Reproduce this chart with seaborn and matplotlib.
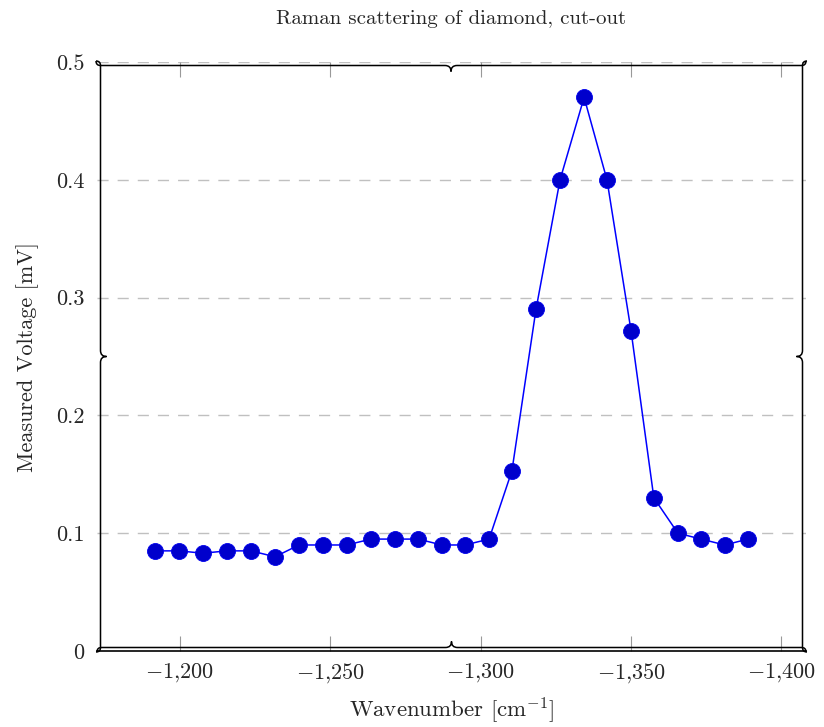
import numpy as np
import pandas as pd
import matplotlib
matplotlib.use("Agg")
import matplotlib.pyplot as plt
from matplotlib.path import Path
from matplotlib.patches import PathPatch
from matplotlib.transforms import IdentityTransform
import seaborn as sns

# Raman spectrum of diamond around the first-order line (cut-out)
wavenumber = [-1191.7, -1199.7, -1207.6, -1215.6, -1223.6, -1231.6, -1239.6,
              -1247.6, -1255.5, -1263.5, -1271.5, -1279.2, -1287.1, -1294.8,
              -1302.8, -1310.4, -1318.4, -1326.4, -1334.4, -1342.0, -1350.0,
              -1357.6, -1365.6, -1373.3, -1381.2, -1388.9]
voltage = [0.085, 0.085, 0.083, 0.085, 0.085, 0.080, 0.090, 0.090, 0.090,
           0.095, 0.095, 0.095, 0.090, 0.090, 0.095, 0.153, 0.290, 0.400,
           0.470, 0.400, 0.272, 0.130, 0.100, 0.095, 0.090, 0.095]

x_ticks = [-1200, -1250, -1300, -1350, -1400]
x_tick_labels = [r"$-1{,}200$", r"$-1{,}250$", r"$-1{,}300$", r"$-1{,}350$", r"$-1{,}400$"]
y_ticks = [0, 0.1, 0.2, 0.3, 0.4, 0.5]
y_tick_labels = ["0", "0.1", "0.2", "0.3", "0.4", "0.5"]

title = "Raman scattering of diamond, cut-out"
x_label = r"Wavenumber [cm$^{-1}$]"
y_label = "Measured Voltage [mV]"

sns.set_theme(style="white")
plt.rcParams["font.family"] = ["cmr10", "DejaVu Serif"]
plt.rcParams["mathtext.fontset"] = "cm"
plt.rcParams["axes.formatter.use_mathtext"] = True

W, H = 824, 727
fig = plt.figure(figsize=(W / 100, H / 100), dpi=100)
fig.patch.set_facecolor("white")

# axes box in pixel coordinates (image origin top-left)
left_px, right_px, top_px, bottom_px = 97, 806, 62, 651
ax = fig.add_axes([left_px / W, 1 - bottom_px / H,
                   (right_px - left_px) / W, (bottom_px - top_px) / H])

df = pd.DataFrame({"wavenumber": wavenumber, "voltage": voltage})

# dashed horizontal grid
for yv in y_ticks[1:]:
    ax.axhline(yv, color="#c0c0c0", lw=1.0, ls=(0, (8, 6.5)), zorder=0)

sns.lineplot(data=df, x="wavenumber", y="voltage", ax=ax, color="#0000ff",
             lw=1.1, marker="o", markersize=11.5, markerfacecolor="#0000cc",
             markeredgecolor="#0000ee", markeredgewidth=0.6, zorder=3,
             sort=False)

ax.set_xlim(-1172.4, -1408.2)
ax.set_ylim(0, 0.5)
ax.set_xticks(x_ticks)
ax.set_xticklabels(x_tick_labels)
ax.set_yticks(y_ticks)
ax.set_yticklabels(y_tick_labels)

ax.tick_params(axis="x", which="both", direction="in", length=10.5, width=0.8,
               color="#999999", top=True, bottom=True, labelsize=16, pad=7)
ax.tick_params(axis="y", length=0, labelsize=16, pad=9)

for side in ["top", "left", "right"]:
    ax.spines[side].set_visible(False)
ax.spines["bottom"].set_color("black")
ax.spines["bottom"].set_linewidth(1.2)

ax.set_xlabel(x_label, fontsize=16.5, labelpad=8)
ax.set_ylabel(y_label, fontsize=16, labelpad=12)
ax.set_title(title, fontsize=15, pad=27)


def brace(p0, p1, body, tip, inward):
    """Curly brace from p0 to p1 (pixel coords, top-left origin) bulging along inward."""
    p0 = np.array(p0, float)
    p1 = np.array(p1, float)
    d = p1 - p0
    L = np.hypot(*d)
    u = d / L
    n = np.array(inward, float)
    h = body
    w = 6.0
    local = [
        (0, 0), (0, h), (h, h),
        (L / 2 - w, h),
        (L / 2, h), (L / 2, tip),
        (L / 2, h), (L / 2 + w, h),
        (L - h, h),
        (L, h), (L, 0),
    ]
    codes = [Path.MOVETO, Path.CURVE3, Path.CURVE3, Path.LINETO,
             Path.CURVE3, Path.CURVE3, Path.CURVE3, Path.CURVE3,
             Path.LINETO, Path.CURVE3, Path.CURVE3]
    pts = []
    for a, b in local:
        p = p0 + a * u + b * n
        pts.append((p[0], H - p[1]))
    patch = PathPatch(Path(pts, codes), fill=False, edgecolor="black", lw=1.1,
                      transform=IdentityTransform(), zorder=5)
    fig.add_artist(patch)


body, tip = 4.5, 10.5
brace((96, 61), (806, 61), body, tip, (0, 1))      # top, tip pointing down
brace((97, 652), (806, 652), body, tip, (0, -1))   # bottom, tip pointing up
brace((96, 61), (96, 652), body, tip, (1, 0))      # left, tip pointing right
brace((807, 61), (807, 652), body, tip, (-1, 0))   # right, tip pointing left

fig.savefig("out.png", dpi=100)
